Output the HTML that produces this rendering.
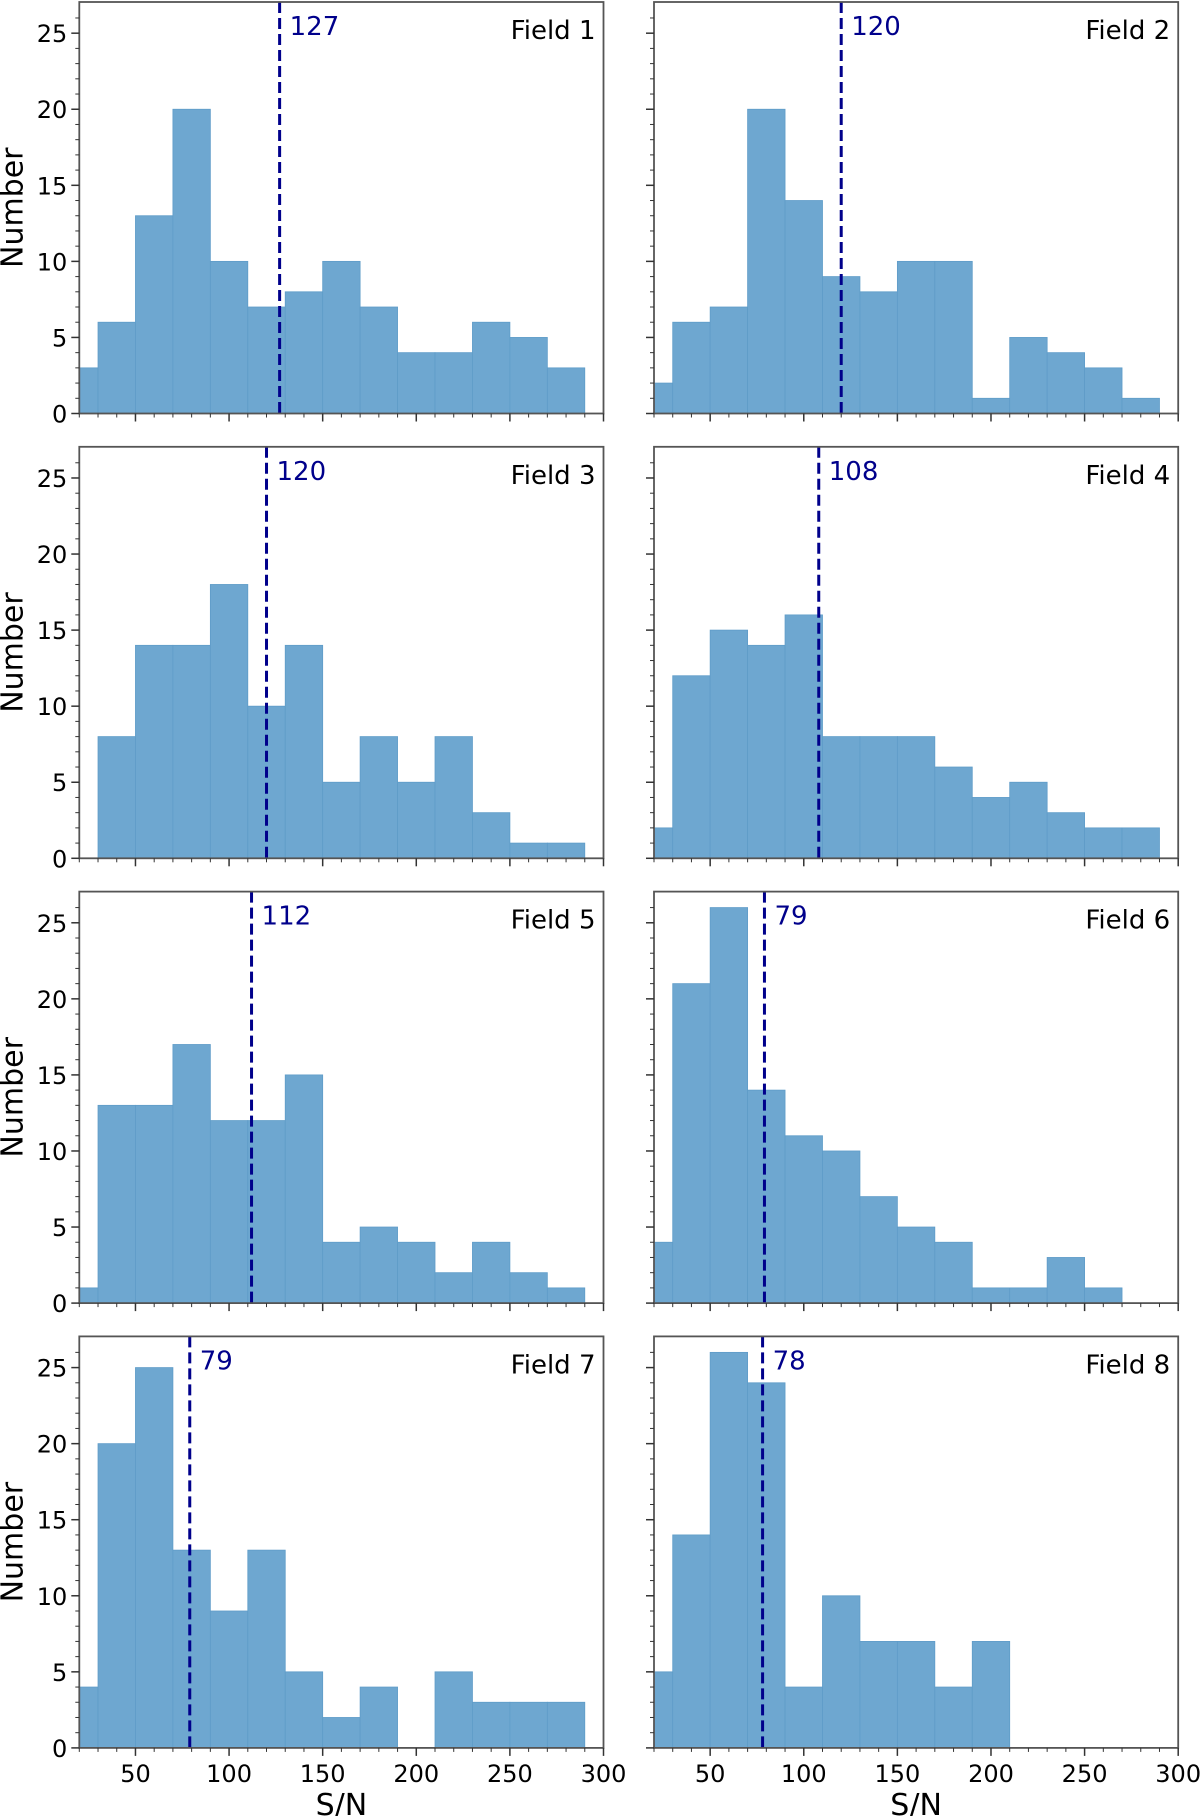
<!DOCTYPE html>
<html><head><meta charset="utf-8"><style>
html,body{margin:0;padding:0;background:#fff;}
svg{display:block;font-family:"DejaVu Sans","Liberation Sans",sans-serif;}
</style></head><body>
<svg id="chart" width="1200" height="1816" viewBox="0 0 1200 1816" xmlns="http://www.w3.org/2000/svg"></svg>
<script>
const binEdges = [10,30,50,70,90,110,130,150,170,190,210,230,250,270,290];
const fieldNames = ["Field 1","Field 2","Field 3","Field 4","Field 5","Field 6","Field 7","Field 8"];
const counts1 = [3,6,13,20,10,7,8,10,7,4,4,6,5,3];
const counts2 = [2,6,7,20,14,9,8,10,10,1,5,4,3,1];
const counts3 = [0,8,14,14,18,10,14,5,8,5,8,3,1,1];
const counts4 = [2,12,15,14,16,8,8,8,6,4,5,3,2,2];
const counts5 = [1,13,13,17,12,12,15,4,5,4,2,4,2,1];
const counts6 = [4,21,26,14,11,10,7,5,4,1,1,3,1,0];
const counts7 = [4,20,25,13,9,13,5,2,4,0,5,3,3,3];
const counts8 = [5,14,26,24,4,10,7,7,4,7,0,0,0,0];
const medians = [127,120,120,108,112,79,79,78];
const xTicks = [50,100,150,200,250,300];
const yTicks = [0,5,10,15,20,25];
const allCounts = [counts1,counts2,counts3,counts4,counts5,counts6,counts7,counts8];

const NS = "http://www.w3.org/2000/svg";
const svg = document.getElementById("chart");
const XMIN = 20, XMAX = 300, YMAX = 27.05;
const colLeft = [79.3, 654];
const plotW = 524.2;
const rowBottom = [413.5, 858.3, 1303.1, 1747.9];
const plotH = 411.5;

function mk(tag, attrs, parent){
  const e = document.createElementNS(NS, tag);
  for (const k in attrs) e.setAttribute(k, attrs[k]);
  (parent||svg).appendChild(e);
  return e;
}

for (let i = 0; i < 8; i++) {
  const col = i % 2, row = Math.floor(i / 2);
  const L = colLeft[col], B = rowBottom[row], T = B - plotH, R = L + plotW;
  const xs = v => L + (v - XMIN) / (XMAX - XMIN) * plotW;
  const ys = v => B - v / YMAX * plotH;
  const g = mk("g", {});
  
  
  const clipId = "clip" + i;
  const cp = mk("clipPath", {id: clipId}, g);
  mk("rect", {x: L, y: T, width: plotW, height: plotH}, cp);
  const bars = mk("g", {"clip-path": "url(#" + clipId + ")"}, g);
  const data = allCounts[i];
  for (let b = 0; b < data.length; b++) {
    if (data[b] <= 0) continue;
    const x0 = xs(binEdges[b]), x1 = xs(binEdges[b+1]);
    const r = mk("rect", {x: x0, y: ys(data[b]), width: x1 - x0, height: B - ys(data[b]),
      fill: "#6ea7d0", stroke: "#5f9cc8", "stroke-width": 0.8}, bars);
    
    
  }
  const mx = xs(medians[i]);
  const ml = mk("line", {x1: mx, x2: mx, y1: T, y2: B, stroke: "#00008b", "stroke-width": 3, "stroke-dasharray": "11,5"}, g);
  
  
  const mt = mk("text", {x: mx + 10, y: T + 33, fill: "#00008b", "font-size": 26}, g);
  mt.textContent = medians[i];
  
  
  const ft = mk("text", {x: R - 8, y: T + 37, "text-anchor": "end", "font-size": 26, fill: "#000"}, g);
  ft.textContent = fieldNames[i];
  
  
  const fr = mk("rect", {x: L, y: T, width: plotW, height: plotH, fill: "none", stroke: "#555", "stroke-width": 1.8}, g);
  
  
  for (let v = 0; v <= 26; v++) {
    const major = v % 5 === 0;
    mk("line", {x1: L, x2: L - (major ? 8 : 4), y1: ys(v), y2: ys(v), stroke: "#333", "stroke-width": major ? 1.5 : 1}, g);
  }
  if (col === 0) {
    yTicks.forEach(v => {
      const t = mk("text", {x: L - 12, y: ys(v) + 9, "text-anchor": "end", "font-size": 24}, g);
      t.textContent = v;
      
      
    });
    const yl = mk("text", {x: 0, y: 0, "text-anchor": "middle", "font-size": 30,
      transform: "translate(" + (L - 57) + "," + (T + plotH/2) + ") rotate(-90)"}, g);
    yl.textContent = "Number";
    
    
  }
  for (let v = 20; v <= 300; v += 10) {
    const major = v % 50 === 0;
    mk("line", {x1: xs(v), x2: xs(v), y1: B, y2: B + (major ? 8 : 4), stroke: "#333", "stroke-width": major ? 1.5 : 1}, g);
  }
  if (row === 3) {
    xTicks.forEach(v => {
      const t = mk("text", {x: xs(v), y: B + 34, "text-anchor": "middle", "font-size": 24}, g);
      t.textContent = v;
      
      
    });
    const xl = mk("text", {x: L + plotW/2, y: B + 67, "text-anchor": "middle", "font-size": 30}, g);
    xl.textContent = "S/N";
    
    
  }
}
</script>
</body></html>
